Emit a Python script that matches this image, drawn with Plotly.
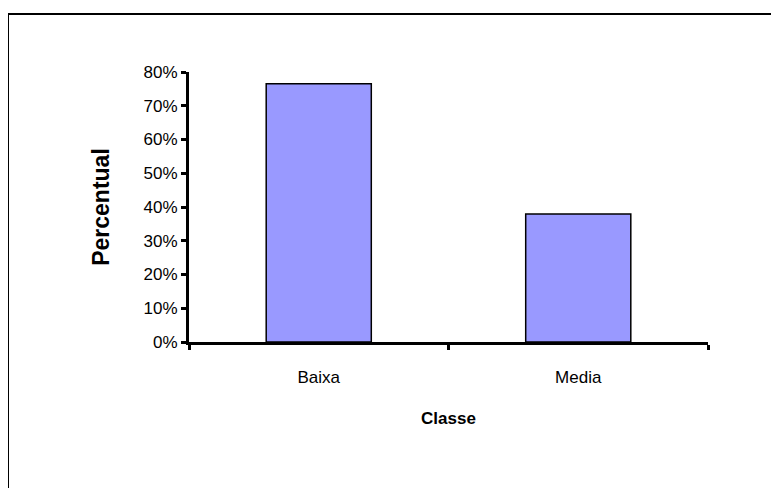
import plotly.graph_objects as go

categories = ["Baixa", "Media"]
values = [76.5, 37.9]
y_ticks = [0, 10, 20, 30, 40, 50, 60, 70, 80]

W, H = 779, 488
L, R, T, B = 181, 79, 64, 154
pw, ph = W - L - R, H - T - B

def px(x):
    return (x - L) / pw

def py(y):
    return (H - B - y) / ph

fig = go.Figure(go.Bar(
    x=categories, y=values,
    marker=dict(color="#9999FF", line=dict(color="black", width=1.5)),
    width=0.405,
))

fig.update_layout(
    width=W, height=H,
    margin=dict(l=L, r=R, t=T, b=B),
    paper_bgcolor="white", plot_bgcolor="white",
    font=dict(family="Liberation Sans, Arial, sans-serif", size=17, color="black"),
    showlegend=False,
    xaxis=dict(
        showline=True, linecolor="black", linewidth=3,
        ticks="outside", tickson="boundaries", ticklen=5, tickwidth=3, tickcolor="black",
        showgrid=False, range=[-0.5, 1.5],
        ticklabelstandoff=18,
        title=dict(text="<b>Classe</b>", font=dict(size=17), standoff=26),
        tickfont=dict(size=17),
    ),
    yaxis=dict(
        range=[0, 80], tickvals=y_ticks, ticktext=[f"{v}%" for v in y_ticks],
        showline=True, linecolor="black", linewidth=3,
        ticks="outside", ticklen=5, tickwidth=3, tickcolor="black",
        showgrid=False, zeroline=False,
        title=dict(text="<b>Percentual</b>", font=dict(size=23), standoff=28),
        tickfont=dict(size=17),
    ),
    shapes=[
        dict(type="line", xref="paper", yref="paper",
             x0=px(0), x1=px(790), y0=py(6), y1=py(6),
             line=dict(color="black", width=2)),
        dict(type="line", xref="paper", yref="paper",
             x0=px(0), x1=px(0), y0=py(6), y1=py(500),
             line=dict(color="black", width=2)),
    ],
)

fig.write_html("out.html")
